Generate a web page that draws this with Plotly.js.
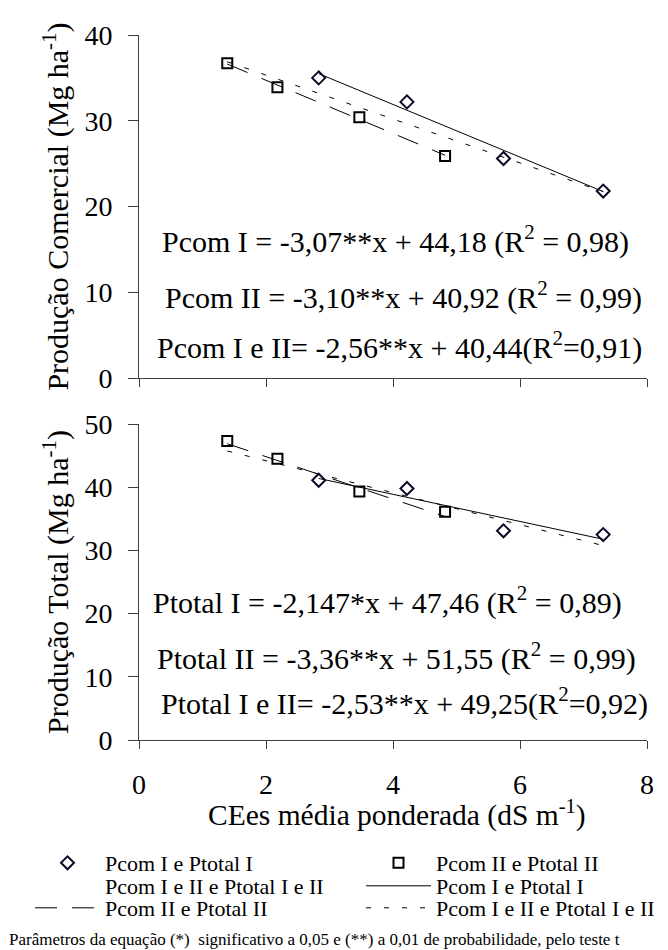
<!DOCTYPE html>
<html>
<head>
<meta charset="utf-8">
<script src="https://cdn.plot.ly/plotly-3.0.1.min.js"></script>
<style>html,body{margin:0;padding:0;background:#fff;}#chart{width:668px;height:950px;}</style>
</head>
<body>
<div id="chart"></div>
<script>
// ---- data ----
const xI  = [2.83, 4.22, 5.74, 7.31];   // CEes, treatment I
const xII = [1.39, 2.18, 3.47, 4.82];   // CEes, treatment II
const pcomI    = [35.0, 32.2, 25.6, 21.8];
const pcomII   = [36.7, 33.9, 30.4, 25.9];
const ptotalI  = [41.1, 39.8, 33.1, 32.5];
const ptotalII = [47.3, 44.5, 39.3, 36.1];

// regression coefficients printed on the chart [slope, intercept]
const fitPcomI     = [-3.07, 44.18];
const fitPcomII    = [-3.10, 40.92];
const fitPcomAll   = [-2.56, 40.44];
const fitPtotalI   = [-2.147, 47.46];
const fitPtotalII  = [-3.36, 51.55];
const fitPtotalAll = [-2.53, 49.25];

const eqTop = [
  'Pcom I = -3,07**x + 44,18 (R<sup>2</sup> = 0,98)',
  'Pcom II = -3,10**x + 40,92 (R<sup>2</sup> = 0,99)',
  'Pcom I e II= -2,56**x + 40,44(R<sup>2</sup>=0,91)'
];
const eqBottom = [
  'Ptotal I = -2,147*x + 47,46 (R<sup>2</sup> = 0,89)',
  'Ptotal II = -3,36**x + 51,55 (R<sup>2</sup> = 0,99)',
  'Ptotal I e II= -2,53**x + 49,25(R<sup>2</sup>=0,92)'
];
const legendNames = [
  'Pcom I e Ptotal I', 'Pcom II e Ptotal II',
  'Pcom I e II e Ptotal I e II', 'Pcom I e Ptotal I',
  'Pcom II e Ptotal II', 'Pcom I e II e Ptotal I e II'
];
const xTitle = 'CEes média ponderada (dS m<sup>-1</sup>)';
const yTitleTop = 'Produção Comercial (Mg ha<sup>-1</sup>)';
const yTitleBottom = 'Produção Total (Mg ha<sup>-1</sup>)';
const footnote = 'Parâmetros da equação (*)  significativo a 0,05 e (**) a 0,01 de probabilidade, pelo teste t';

// ---- helpers ----
const W = 668, H = 950;
const px = p => p / W;
const py = p => 1 - p / H;
const FONT = '"Liberation Serif", "Times New Roman", serif';
function fitLine(coef, xs) {
  const lo = Math.min(...xs), hi = Math.max(...xs);
  return { x: [lo, hi], y: [coef[0] * lo + coef[1], coef[0] * hi + coef[1]] };
}
const markerColor = '#0a0a28';
const LONGDASH = '22px,15px';
const SHORTDASH = '5px,13px';

function panel(xa, ya, yI, yII, fI, fII, fAll, legendOn) {
  const lI = fitLine(fI, xI), lII = fitLine(fII, xII), lAll = fitLine(fAll, xI.concat(xII));
  return [
    { x: lAll.x, y: lAll.y, xaxis: xa, yaxis: ya, mode: 'lines', name: legendNames[5],
      line: { color: '#000', width: 1, dash: SHORTDASH }, showlegend: legendOn, legend: 'legend6' },
    { x: lII.x, y: lII.y, xaxis: xa, yaxis: ya, mode: 'lines', name: legendNames[4],
      line: { color: '#000', width: 1, dash: LONGDASH }, showlegend: legendOn, legend: 'legend5' },
    { x: lI.x, y: lI.y, xaxis: xa, yaxis: ya, mode: 'lines', name: legendNames[3],
      line: { color: '#000', width: 1 }, showlegend: legendOn, legend: 'legend4' },
    { x: xI, y: yI, xaxis: xa, yaxis: ya, mode: 'markers', name: legendNames[0],
      marker: { symbol: 'diamond-open', size: 10, color: markerColor, line: { width: 2, color: markerColor } },
      showlegend: legendOn, legend: 'legend' },
    { x: xII, y: yII, xaxis: xa, yaxis: ya, mode: 'markers', name: legendNames[1],
      marker: { symbol: 'square-open', size: 10, color: '#000', line: { width: 2, color: '#000' } },
      showlegend: legendOn, legend: 'legend2' }
  ];
}

const traces = []
  .concat(panel('x', 'y', pcomI, pcomII, fitPcomI, fitPcomII, fitPcomAll, true))
  .concat(panel('x2', 'y2', ptotalI, ptotalII, fitPtotalI, fitPtotalII, fitPtotalAll, false));
// combined series entry: listed in the legend without a visible symbol
traces.push({ x: xII.concat(xI), y: pcomII.concat(pcomI), xaxis: 'x', yaxis: 'y', mode: 'lines',
  name: legendNames[2], line: { color: 'rgba(0,0,0,0)', width: 0 }, hoverinfo: 'skip',
  showlegend: true, legend: 'legend3' });

const axisCommon = {
  showgrid: false, zeroline: false, showline: true, linecolor: '#404040', linewidth: 1,
  ticks: 'outside', tickcolor: '#404040', tickwidth: 1,
  tickfont: { family: FONT, size: 28, color: '#000' }
};
const xDom = [px(139), px(647)];

function legendAt(xLeft, yMid) {
  return { x: px(xLeft), y: py(yMid), xanchor: 'left', yanchor: 'middle', orientation: 'h',
    bgcolor: 'rgba(0,0,0,0)', borderwidth: 0, itemwidth: 65,
    font: { family: FONT, size: 22, color: '#000' }, itemclick: false, itemdoubleclick: false };
}

const annotations = [];
const eqTopY = [239, 295, 345], eqTopX = [395, 403, 400];
const eqBotY = [600, 656, 701], eqBotX = [387, 396, 404];
eqTop.forEach((t, i) => annotations.push({ text: t, x: px(eqTopX[i]), y: py(eqTopY[i]), xref: 'paper', yref: 'paper',
  xanchor: 'center', yanchor: 'middle', showarrow: false, font: { family: FONT, size: 30, color: '#000' } }));
eqBottom.forEach((t, i) => annotations.push({ text: t, x: px(eqBotX[i]), y: py(eqBotY[i]), xref: 'paper', yref: 'paper',
  xanchor: 'center', yanchor: 'middle', showarrow: false, font: { family: FONT, size: 30, color: '#000' } }));
// x-axis title (placed tight under the tick labels, as in the reference)
annotations.push({ text: xTitle, x: px(397), y: py(813), xref: 'paper', yref: 'paper', xanchor: 'center',
  yanchor: 'middle', showarrow: false, font: { family: FONT, size: 29.5, color: '#000' } });
annotations.push({ text: footnote, x: px(314), y: py(939), xref: 'paper', yref: 'paper', xanchor: 'center',
  yanchor: 'middle', showarrow: false, font: { family: FONT, size: 17, color: '#000' } });

const layout = {
  width: W, height: H,
  margin: { l: 0, r: 0, t: 0, b: 0 },
  paper_bgcolor: '#fff', plot_bgcolor: '#fff',
  font: { family: FONT, color: '#000' },
  showlegend: true,
  xaxis: Object.assign({}, axisCommon, { domain: xDom, anchor: 'y', range: [0, 8], dtick: 2, tick0: 0,
    ticklen: 8, showticklabels: false }),
  yaxis: Object.assign({}, axisCommon, { domain: [py(378), py(35)], anchor: 'x', range: [0, 40], dtick: 10,
    ticklen: 10, ticklabelstandoff: 10,
    title: { text: yTitleTop, font: { family: FONT, size: 30, color: '#000' }, standoff: 6 } }),
  xaxis2: Object.assign({}, axisCommon, { domain: xDom, anchor: 'y2', range: [0, 8], dtick: 2, tick0: 0,
    ticklen: 8, ticklabelstandoff: 11 }),
  yaxis2: Object.assign({}, axisCommon, { domain: [py(740), py(424)], anchor: 'x2', range: [0, 50], dtick: 10,
    ticklen: 10, ticklabelstandoff: 10,
    title: { text: yTitleBottom, font: { family: FONT, size: 30, color: '#000' }, standoff: 6 } }),
  legend: legendAt(30, 863),
  legend2: legendAt(361, 863),
  legend3: legendAt(30, 886),
  legend4: legendAt(361, 886),
  legend5: legendAt(30, 908),
  legend6: legendAt(361, 908),
  annotations: annotations
};

Plotly.newPlot('chart', traces, layout, { staticPlot: true, displayModeBar: false });
</script>
</body>
</html>
